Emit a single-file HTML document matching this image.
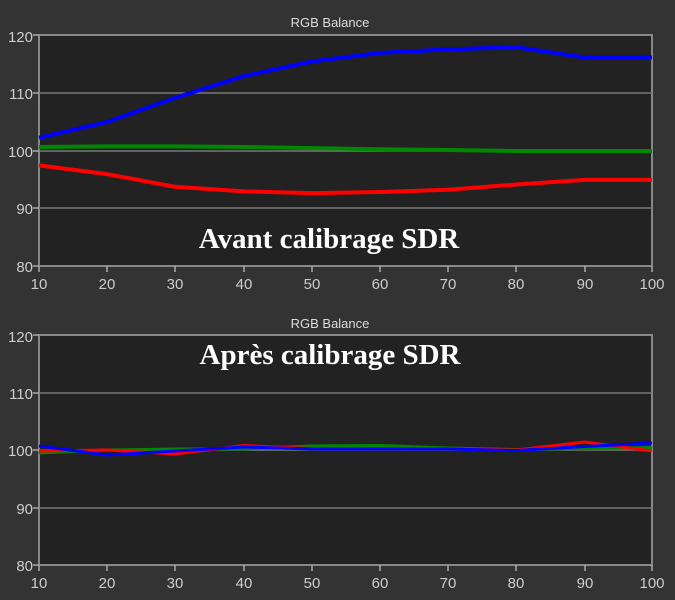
<!DOCTYPE html><html><head><style>body{margin:0;background:#333}svg{display:block}</style></head><body>
<svg width="675" height="600" xmlns="http://www.w3.org/2000/svg" font-family="Liberation Sans, DejaVu Sans, sans-serif">
<rect width="675" height="600" fill="#333"/>
<g id="c1">
<text x="330" y="27" fill="#ddd" font-size="13" text-anchor="middle">RGB Balance</text>
<rect x="39" y="35" width="613" height="231" fill="#222" stroke="#888" stroke-width="2"/>
<g stroke="#777" stroke-width="1.5"><line x1="39" x2="652" y1="93" y2="93"/><line x1="39" x2="652" y1="151" y2="151"/><line x1="39" x2="652" y1="208" y2="208"/></g>
<g fill="#ccc" font-size="15" text-anchor="end"><text x="33" y="42">120</text><text x="33" y="99">110</text><text x="33" y="157">100</text><text x="33" y="214">90</text><text x="33" y="272">80</text></g>
<g stroke="#aaa" stroke-width="1.5"><line x1="33" x2="39" y1="35" y2="35"/><line x1="33" x2="39" y1="93" y2="93"/><line x1="33" x2="39" y1="151" y2="151"/><line x1="33" x2="39" y1="208" y2="208"/><line x1="33" x2="39" y1="266" y2="266"/></g>
<polyline fill="none" stroke="#00f" stroke-width="4" points="39,137.7 107,122.1 175,97.9 244,76 312,61.5 380,52.9 448,49.4 516,47.1 585,57.5 652,57.5"/>
<polyline fill="none" stroke="#080" stroke-width="4" points="39,147 107,146.4 175,146.4 244,147 312,148.1 380,149.3 448,150 516,151 585,151 652,151"/>
<polyline fill="none" stroke="#f00" stroke-width="4" points="39,165.4 107,174.1 175,186.8 244,191.4 312,193.1 380,192 448,189.7 516,184.5 585,179.9 652,179.9"/>
<text x="329" y="248" fill="#fff" font-size="29" font-weight="bold" font-family="Liberation Serif, serif" text-anchor="middle">Avant calibrage SDR</text>
</g>
<g id="c2">
<text x="330" y="328" fill="#ddd" font-size="13" text-anchor="middle">RGB Balance</text>
<rect x="39" y="335" width="613" height="230" fill="#222" stroke="#888" stroke-width="2"/>
<g stroke="#777" stroke-width="1.5"><line x1="39" x2="652" y1="393" y2="393"/><line x1="39" x2="652" y1="450" y2="450"/><line x1="39" x2="652" y1="508" y2="508"/></g>
<g fill="#ccc" font-size="15" text-anchor="end"><text x="33" y="342">120</text><text x="33" y="399">110</text><text x="33" y="456">100</text><text x="33" y="514">90</text><text x="33" y="571">80</text></g>
<g stroke="#aaa" stroke-width="1.5"><line x1="33" x2="39" y1="335" y2="335"/><line x1="33" x2="39" y1="393" y2="393"/><line x1="33" x2="39" y1="450" y2="450"/><line x1="33" x2="39" y1="508" y2="508"/><line x1="33" x2="39" y1="565" y2="565"/></g>
<polyline fill="none" stroke="#080" stroke-width="3" points="39,453 107,450 175,449 244,449 312,446 380,445.5 448,448 516,449.5 585,448.5 652,447.5"/>
<polyline fill="none" stroke="#f00" stroke-width="3" points="39,451 107,450 175,454 244,445.5 312,448.5 380,448.5 448,448.5 516,450 585,442 652,451"/>
<polyline fill="none" stroke="#00f" stroke-width="3" points="39,446 107,455 175,451 244,447 312,449 380,449 448,449 516,450.5 585,446.5 652,443"/>
<text x="330" y="364" fill="#fff" font-size="29" font-weight="bold" font-family="Liberation Serif, serif" text-anchor="middle">Après calibrage SDR</text>
</g>
<g fill="#ccc" font-size="15" text-anchor="middle">
<text x="39" y="289">10</text><text x="107" y="289">20</text><text x="175" y="289">30</text><text x="244" y="289">40</text><text x="312" y="289">50</text><text x="380" y="289">60</text><text x="448" y="289">70</text><text x="516" y="289">80</text><text x="585" y="289">90</text><text x="652" y="289">100</text>
<text x="39" y="588">10</text><text x="107" y="588">20</text><text x="175" y="588">30</text><text x="244" y="588">40</text><text x="312" y="588">50</text><text x="380" y="588">60</text><text x="448" y="588">70</text><text x="516" y="588">80</text><text x="585" y="588">90</text><text x="652" y="588">100</text>
</g>
<g stroke="#aaa" stroke-width="1.5">
<path d="M39 266v6M107 266v6M175 266v6M244 266v6M312 266v6M380 266v6M448 266v6M516 266v6M585 266v6M652 266v6"/>
<path d="M39 565v6M107 565v6M175 565v6M244 565v6M312 565v6M380 565v6M448 565v6M516 565v6M585 565v6M652 565v6"/>
</g>
</svg>
</body></html>
